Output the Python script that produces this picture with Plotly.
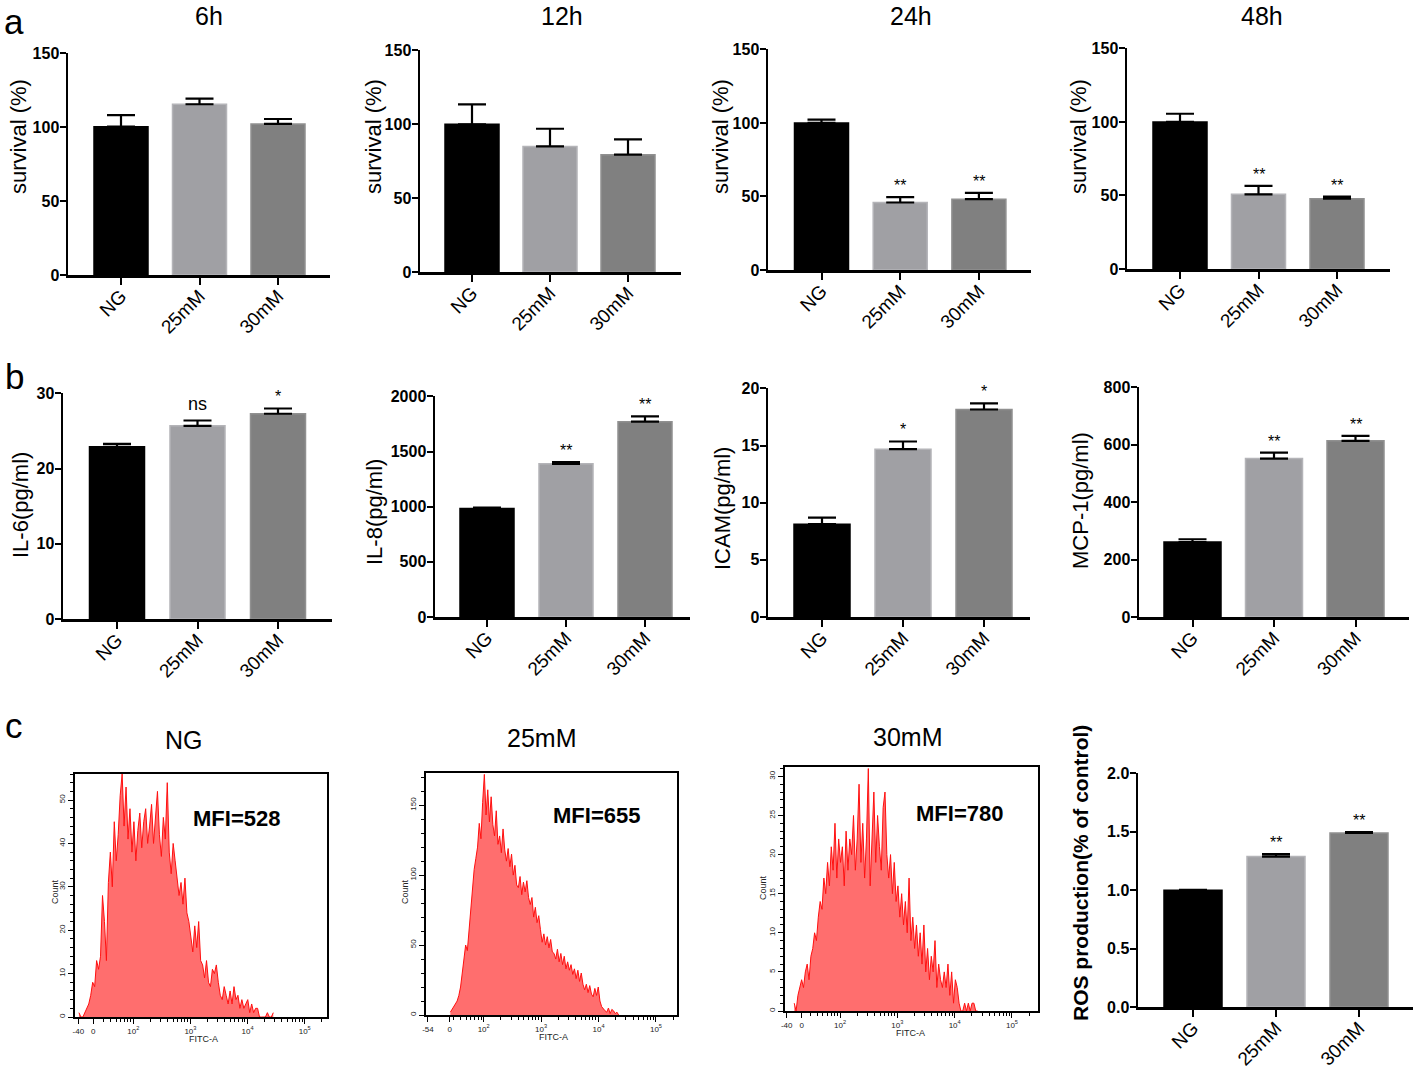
import numpy as np
import plotly.graph_objects as go

W, H = 1416, 1071
OFF = 0  # body margin is removed by the post script, so window pixels map directly
FONT = "Liberation Sans, Arial, Helvetica, sans-serif"

# ---------------- data ----------------
groups = ["NG", "25mM", "30mM"]
bar_colors = ["#000000", "#A0A0A4", "#808080"]
edge_colors = ["#000000", "#B4B4B8", "#909090"]

surv_6h = [100.4, 115.6, 102.3]
surv_6h_err = [7.9, 3.8, 3.3]
surv_12h = [100.0, 85.0, 79.4]
surv_12h_err = [13.5, 12.0, 10.4]
surv_24h = [100.0, 45.9, 48.2]
surv_24h_err = [2.3, 3.6, 4.3]
surv_24h_sig = ["", "**", "**"]
surv_48h = [100.0, 50.8, 47.8]
surv_48h_err = [5.6, 5.8, 1.4]
surv_48h_sig = ["", "**", "**"]

il6 = [22.9, 25.7, 27.3]
il6_err = [0.4, 0.7, 0.7]
il6_sig = ["", "ns", "*"]
il8 = [983, 1389, 1771]
il8_err = [9, 15, 49]
il8_sig = ["", "**", "**"]
icam = [8.12, 14.69, 18.16]
icam_err = [0.58, 0.67, 0.53]
icam_sig = ["", "*", "*"]
mcp1 = [261, 552, 614]
mcp1_err = [10, 21, 17]
mcp1_sig = ["", "**", "**"]
ros = [1.0, 1.288, 1.49]
ros_err = [0.004, 0.022, 0.007]
ros_sig = ["", "**", "**"]

# flow cytometry histograms (counts per channel, display scale in decades)
hist_ng_span = [1.05, 4.45]
hist_ng_counts = [1, 0, 0, 1, 2, 3, 5, 8, 7, 13, 11, 14, 28, 22, 13, 31, 38, 30, 45, 36,
                  42, 51, 56, 44, 53, 41, 48, 38, 45, 36, 43, 47, 39, 45, 48, 40, 44, 49, 40, 46,
                  52, 42, 37, 46, 41, 54, 38, 33, 40, 36, 32, 28, 31, 26, 32, 24, 22, 18, 15, 21,
                  16, 22, 13, 12, 9, 13, 8, 7, 11, 10, 12, 8, 5, 4, 7, 5, 3, 6, 3, 7,
                  4, 5, 2, 4, 2, 3, 4, 1, 3, 1, 2, 2, 0, 0, 0, 0, 1, 0, 0, 1]
hist_25_span = [1.42, 4.35]
hist_25_counts = [2, 4, 6, 8, 10, 14, 20, 30, 42, 50, 46, 62, 75, 92, 104, 112, 120, 137, 126, 152,
                  172, 143, 161, 138, 156, 136, 128, 146, 122, 128, 116, 133, 118, 110, 119, 106, 115, 100, 107, 93,
                  91, 99, 86, 95, 88, 96, 84, 79, 84, 70, 77, 66, 71, 61, 52, 58, 50, 56, 48, 54,
                  45, 44, 40, 47, 38, 44, 36, 42, 33, 38, 32, 36, 29, 33, 26, 32, 24, 30, 22, 18,
                  22, 16, 21, 15, 13, 19, 14, 20, 10, 6, 4, 3, 2, 5, 1, 4, 3, 1, 2, 0]
hist_30_span = [1.2, 4.4]
hist_30_counts = [1, 0, 2, 3, 4, 3, 5, 6, 4, 7, 8, 10, 9, 12, 14, 13, 17, 15, 19, 16,
                  21, 18, 24, 17, 22, 19, 21, 16, 23, 18, 22, 20, 25, 18, 22, 29, 19, 24, 17, 22,
                  31, 16, 23, 28, 19, 25, 21, 18, 26, 28, 20, 17, 20, 15, 19, 14, 16, 12, 15, 11,
                  14, 10, 17, 9, 12, 8, 11, 7, 10, 6, 11, 5, 8, 4, 7, 5, 9, 3, 6, 4,
                  3, 5, 3, 6, 2, 5, 1, 4, 3, 1, 0, 0, 1, 0, 1, 0, 1, 1, 0, 0]
hist_titles = ["NG", "25mM", "30mM"]
hist_mfi = ["MFI=528", "MFI=655", "MFI=780"]
hist_xtick_text = [["-40", "0", "10<sup>2</sup>", "10<sup>3</sup>", "10<sup>4</sup>", "10<sup>5</sup>"],
                   ["-54", "0", "10<sup>2</sup>", "10<sup>3</sup>", "10<sup>4</sup>", "10<sup>5</sup>"],
                   ["-40", "0", "10<sup>2</sup>", "10<sup>3</sup>", "10<sup>4</sup>", "10<sup>5</sup>"]]

# ---------------- helpers (window pixels -> paper fractions) ----------------
def px(x):
    return (x - OFF) / W


def py(y):
    return 1 - (y - OFF) / H


def xd(a, b):
    return [px(a), px(b)]


def yd(top, bottom):
    return [py(bottom), py(top)]


fig = go.Figure()
annotations = []
layout_axes = {}

# geometry: (axis_x, right_x, first_center, spacing, y_top, y_zero, bar_px)
bar_panels = [
    dict(v=surv_6h, e=surv_6h_err, s=None, ymax=150, dt=50, yt="survival (%)", t="6h",
         g=(68, 330, 121, 78.5, 53, 275, 54), yl=(18, 137), tl=(209, 16), ytb=False, yts=22),
    dict(v=surv_12h, e=surv_12h_err, s=None, ymax=150, dt=50, yt="survival (%)", t="12h",
         g=(420, 681, 472, 78, 50, 272, 54), yl=(373, 137), tl=(562, 16), ytb=False, yts=22),
    dict(v=surv_24h, e=surv_24h_err, s=surv_24h_sig, ymax=150, dt=50, yt="survival (%)", t="24h",
         g=(768, 1031, 821.5, 78.7, 49, 270, 54), yl=(720, 137), tl=(911, 16), ytb=False, yts=22),
    dict(v=surv_48h, e=surv_48h_err, s=surv_48h_sig, ymax=150, dt=50, yt="survival (%)", t="48h",
         g=(1127, 1390, 1180, 78.5, 48, 269, 54), yl=(1078, 137), tl=(1262, 16), ytb=False, yts=22),
    dict(v=il6, e=il6_err, s=il6_sig, ymax=30, dt=10, yt="IL-6(pg/ml)", t=None,
         g=(63, 332, 117, 80.5, 393, 619, 55), yl=(20, 505), tl=None, ytb=False, yts=22),
    dict(v=il8, e=il8_err, s=il8_sig, ymax=2000, dt=500, yt="IL-8(pg/ml)", t=None,
         g=(435, 690, 487, 79, 396, 617, 54), yl=(374, 512), tl=None, ytb=False, yts=22),
    dict(v=icam, e=icam_err, s=icam_sig, ymax=20, dt=5, yt="ICAM(pg/ml)", t=None,
         g=(768, 1030, 822, 81, 388, 617, 56), yl=(722, 509), tl=None, ytb=False, yts=22),
    dict(v=mcp1, e=mcp1_err, s=mcp1_sig, ymax=800, dt=200, yt="MCP-1(pg/ml)", t=None,
         g=(1139, 1409, 1192.5, 81.5, 387, 617, 57), yl=(1080, 501), tl=None, ytb=False, yts=22),
    dict(v=ros, e=ros_err, s=ros_sig, ymax=2.0, dt=0.5, yt="ROS production(% of control)", t=None,
         g=(1138, 1413, 1193, 83, 773, 1007, 58), yl=(1080, 873), tl=None, ytb=True, yts=21,
         yfmt=".1f"),
]

n = 0
for p in bar_panels:
    n += 1
    ax_x, rx, c0, sp, ytop, y0, bpx = p["g"]
    xa = "x" if n == 1 else f"x{n}"
    ya = "y" if n == 1 else f"y{n}"
    xk = "xaxis" if n == 1 else f"xaxis{n}"
    yk = "yaxis" if n == 1 else f"yaxis{n}"
    fig.add_trace(go.Bar(
        x=[0, 1, 2], y=p["v"], width=bpx / sp,
        marker=dict(color=bar_colors, line=dict(color=edge_colors, width=1.5)),
        error_y=dict(type="data", array=p["e"], arrayminus=[0, 0, 0], symmetric=False,
                     color="black", thickness=2.2, width=14),
        xaxis=xa, yaxis=ya, showlegend=False, hoverinfo="skip"))
    layout_axes[xk] = dict(
        domain=xd(ax_x, rx), range=[(ax_x - c0) / sp, (rx - c0) / sp], anchor=ya,
        tickmode="array", tickvals=[0, 1, 2], ticktext=groups, tickangle=-45,
        showline=True, linecolor="black", linewidth=2.5, ticks="outside", ticklen=7,
        tickwidth=2, tickcolor="black", showgrid=False, zeroline=False, automargin=False,
        ticklabelstandoff=-7,
        tickfont=dict(family=FONT, size=19, color="black"), fixedrange=True)
    layout_axes[yk] = dict(
        domain=yd(ytop, y0), range=[0, p["ymax"] * 1.002], anchor=xa,
        tickmode="linear", tick0=0, dtick=p["dt"], tickformat=p.get("yfmt", ""),
        showline=True, linecolor="black", linewidth=2.5, ticks="outside", ticklen=6,
        tickwidth=2, tickcolor="black", showgrid=False, zeroline=False, automargin=False,
        ticklabelstandoff=-3,
        tickfont=dict(family=FONT, size=16, color="black", weight="bold"), fixedrange=True)
    annotations.append(dict(
        x=px(p["yl"][0]), y=py(p["yl"][1]), xref="paper", yref="paper",
        text=(f"<b>{p['yt']}</b>" if p["ytb"] else p["yt"]), textangle=-90, showarrow=False,
        font=dict(family=FONT, size=p["yts"], color="black"), xanchor="center", yanchor="middle"))
    if p["t"]:
        annotations.append(dict(
            x=px(p["tl"][0]), y=py(p["tl"][1]), xref="paper", yref="paper", text=p["t"],
            showarrow=False, font=dict(family=FONT, size=25, color="black"),
            xanchor="center", yanchor="middle"))
    if p["s"]:
        for i, s in enumerate(p["s"]):
            if not s:
                continue
            annotations.append(dict(
                x=i, y=p["v"][i] + p["e"][i], xref=xa, yref=ya, text=s, showarrow=False,
                font=dict(family=FONT, size=(18 if s == "ns" else 16), color="black"),
                xanchor="center", yanchor="bottom", yshift=(5 if s == "ns" else 1)))

# ---------------- histograms ----------------
hist_geo = [
    dict(box=(75, 327, 774, 1017), xr=[0.981, 5.39], ymax=56, tv=[1.039, 1.30, 2, 3, 4, 5], dt=10, mdt=2,
         title=(184, 740), mfi=(236, 818), count=(55, 892), fitc=(203, 1039)),
    dict(box=(426, 677, 773, 1015), xr=[0.996, 5.366], ymax=173, tv=[1.03, 1.41, 2, 3, 4, 5], dt=50, mdt=10,
         title=(541, 738), mfi=(596, 815), count=(405, 892), fitc=(553, 1037)),
    dict(box=(785, 1038, 767, 1011), xr=[1.039, 5.454], ymax=31.2, tv=[1.068, 1.33, 2, 3, 4, 5], dt=5, mdt=1,
         title=(907, 737), mfi=(959, 813), count=(763, 888), fitc=(910, 1033)),
]
hist_data = [(hist_ng_span, hist_ng_counts), (hist_25_span, hist_25_counts), (hist_30_span, hist_30_counts)]

minor_x = []
for d in [1, 2, 3, 4, 5]:
    for m in range(2, 10):
        v = d + np.log10(m)
        if 1.45 < v < 5.4:
            minor_x.append(float(v))

for k, (g, (span, counts)) in enumerate(zip(hist_geo, hist_data)):
    n += 1
    xa, ya = f"x{n}", f"y{n}"
    xk, yk = f"xaxis{n}", f"yaxis{n}"
    xs = np.linspace(span[0], span[1], len(counts))
    fig.add_trace(go.Scatter(
        x=xs, y=counts, mode="lines", line=dict(color="#FF1010", width=1),
        fill="tozeroy", fillcolor="#FF6E6E", xaxis=xa, yaxis=ya,
        showlegend=False, hoverinfo="skip"))
    l, r, t, b = g["box"]
    layout_axes[xk] = dict(
        domain=xd(l, r), range=g["xr"], anchor=ya, tickmode="array", tickvals=g["tv"],
        ticktext=hist_xtick_text[k], showline=True, mirror=True, linecolor="black", linewidth=2,
        ticks="outside", ticklen=5, tickwidth=1, tickcolor="black", showgrid=False, zeroline=False,
        tickfont=dict(family=FONT, size=8, color="#222"), automargin=False,
        minor=dict(tickvals=minor_x, ticks="outside", ticklen=3, tickwidth=1, tickcolor="black"),
        fixedrange=True)
    layout_axes[yk] = dict(
        domain=yd(t, b), range=[0, g["ymax"]], anchor=xa, tickmode="linear", tick0=0, dtick=g["dt"],
        showline=True, mirror=True, linecolor="black", linewidth=2, ticks="outside", ticklen=5,
        tickwidth=1, tickcolor="black", showgrid=False, zeroline=False, tickangle=-90,
        tickfont=dict(family=FONT, size=8, color="#222"), automargin=False,
        minor=dict(dtick=g["mdt"], ticks="outside", ticklen=3, tickwidth=1, tickcolor="black"),
        fixedrange=True)
    annotations += [
        dict(x=px(g["title"][0]), y=py(g["title"][1]), xref="paper", yref="paper", text=hist_titles[k],
             showarrow=False, font=dict(family=FONT, size=25, color="black"), xanchor="center", yanchor="middle"),
        dict(x=px(g["mfi"][0]), y=py(g["mfi"][1]), xref="paper", yref="paper", text=f"<b>{hist_mfi[k]}</b>",
             showarrow=False, font=dict(family=FONT, size=22, color="black"), xanchor="center", yanchor="middle"),
        dict(x=px(g["count"][0]), y=py(g["count"][1]), xref="paper", yref="paper", text="Count", textangle=-90,
             showarrow=False, font=dict(family=FONT, size=9, color="#222"), xanchor="center", yanchor="middle"),
        dict(x=px(g["fitc"][0]), y=py(g["fitc"][1]), xref="paper", yref="paper", text="FITC-A",
             showarrow=False, font=dict(family=FONT, size=9, color="#222"), xanchor="center", yanchor="middle"),
    ]

# panel letters
for letter, (lx, ly) in zip(["a", "b", "c"], [(14, 21), (14, 376), (14, 725)]):
    annotations.append(dict(x=px(lx), y=py(ly), xref="paper", yref="paper", text=letter, showarrow=False,
                            font=dict(family=FONT, size=35, color="black"), xanchor="center", yanchor="middle"))

fig.update_layout(
    width=W, height=H, margin=dict(l=0, r=0, t=0, b=0, pad=0, autoexpand=False),
    paper_bgcolor="white", plot_bgcolor="white", showlegend=False,
    bargap=0, annotations=annotations, font=dict(family=FONT, color="black"),
    **layout_axes)

fig.write_html("out.html", config={"displayModeBar": False, "staticPlot": True},
               post_script="document.body.style.margin='0px'; document.body.style.overflow='hidden';")
